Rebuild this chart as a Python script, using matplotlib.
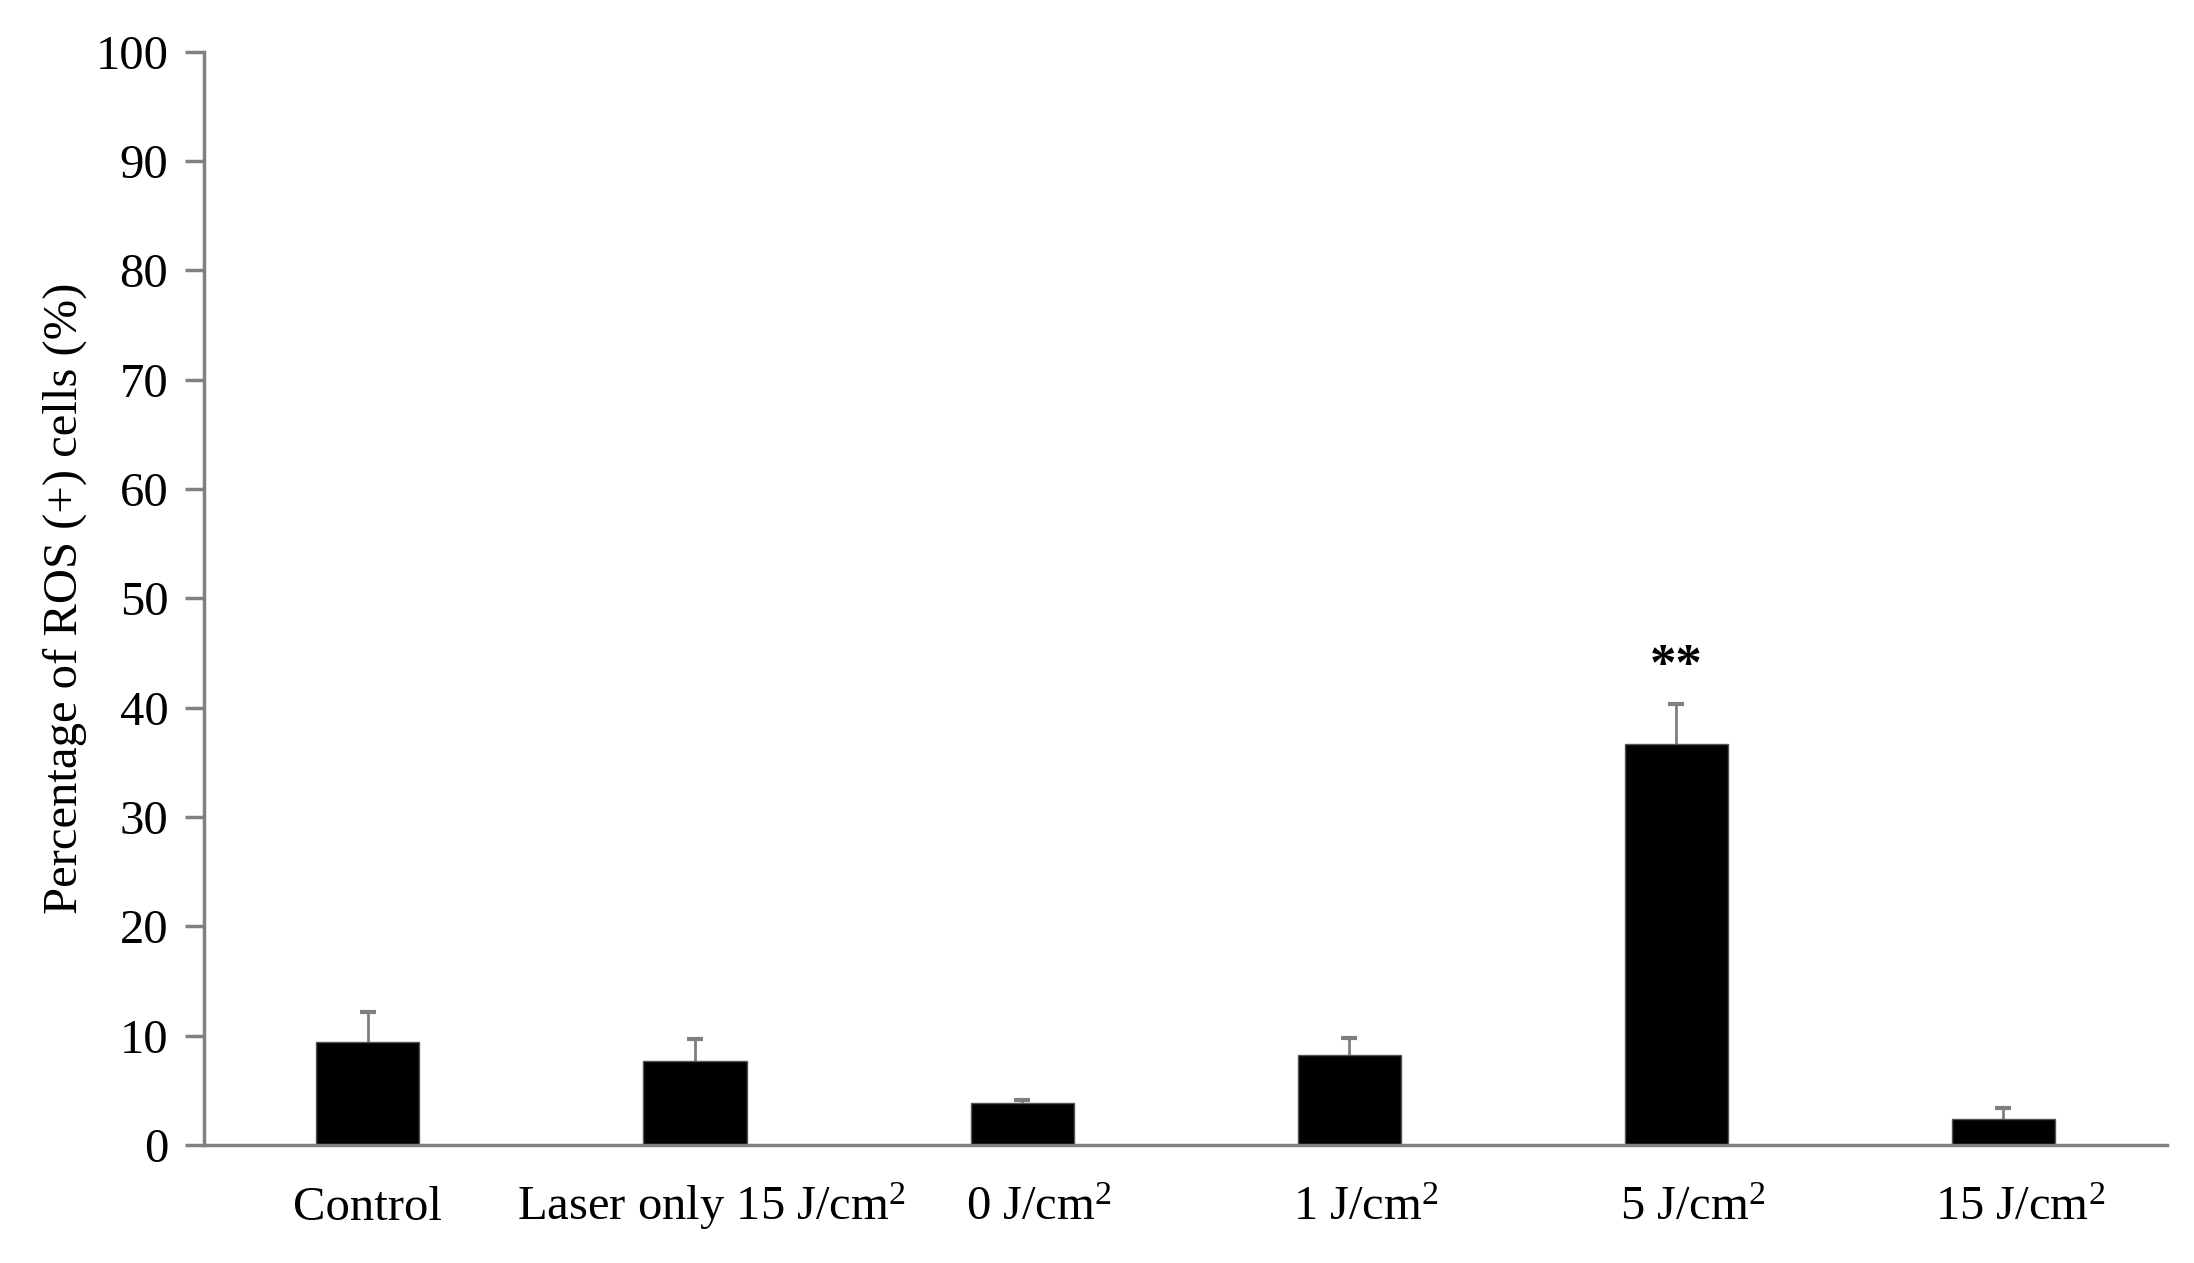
import matplotlib
matplotlib.use("Agg")
from matplotlib import pyplot as plt
from matplotlib.transforms import ScaledTranslation
import numpy as np

categories = ["Control", "Laser only 15 J/cm$^2$", "0 J/cm$^2$", "1 J/cm$^2$", "5 J/cm$^2$", "15 J/cm$^2$"]
ros_pct = [9.4, 7.7, 3.8, 8.2, 36.7, 2.4]
ros_err = [2.8, 2.0, 0.3, 1.55, 3.6, 1.0]
signif = ["", "", "", "", "**", ""]

plt.rcParams["font.family"] = ["Liberation Serif", "DejaVu Serif"]
plt.rcParams["mathtext.fontset"] = "custom"
plt.rcParams["mathtext.rm"] = "Liberation Serif"
plt.rcParams["mathtext.default"] = "regular"

fig = plt.figure(figsize=(21.94, 12.63), dpi=100)
ax = fig.add_axes([0.0932, 0.0934, 0.8943, 0.8656])

x = np.arange(len(categories))
tops = np.array(ros_pct) + np.array(ros_err)
# upper-only error bars: stem under the bar, cap drawn as a marker
ax.errorbar(x, ros_pct, yerr=[np.zeros(len(ros_err)), ros_err], fmt="none",
            ecolor="#7f7f7f", elinewidth=2, capsize=0, zorder=1)
ax.plot(x, tops, ls="none", marker="_", ms=12, mew=3, color="#7f7f7f", zorder=1)
ax.bar(x, ros_pct, width=0.315, color="black", edgecolor="#555555", linewidth=1.0, zorder=2)

for xi, t, s in zip(x, tops, signif):
    if s:
        ax.annotate(s, (xi, t), xytext=(0, 10), textcoords="offset points",
                    ha="center", va="bottom", fontsize=38, fontweight="bold")

ax.set_xlim(-0.5, len(categories) - 0.5)
ax.set_ylim(0, 100)
ax.set_yticks(range(0, 101, 10))
ax.set_xticks(x)
ax.set_xticklabels(categories, fontsize=35, va="baseline")
ax.tick_params(axis="y", labelsize=35, length=14, width=2.5, color="#808080", pad=12)
ax.tick_params(axis="x", length=0, pad=54)
ax.set_ylabel("Percentage of ROS (+) cells (%)", fontsize=35, labelpad=6)

# labels with a superscript sit a little right of the bar centre in the original
shift = ScaledTranslation(12 / 72, 0, fig.dpi_scale_trans)
for lbl in ax.get_xticklabels():
    if "$" in lbl.get_text():
        lbl.set_transform(lbl.get_transform() + shift)

for side in ["top", "right"]:
    ax.spines[side].set_visible(False)
for side in ["left", "bottom"]:
    ax.spines[side].set_color("#808080")
    ax.spines[side].set_linewidth(2.5)

fig.savefig("out.png", dpi=100)
